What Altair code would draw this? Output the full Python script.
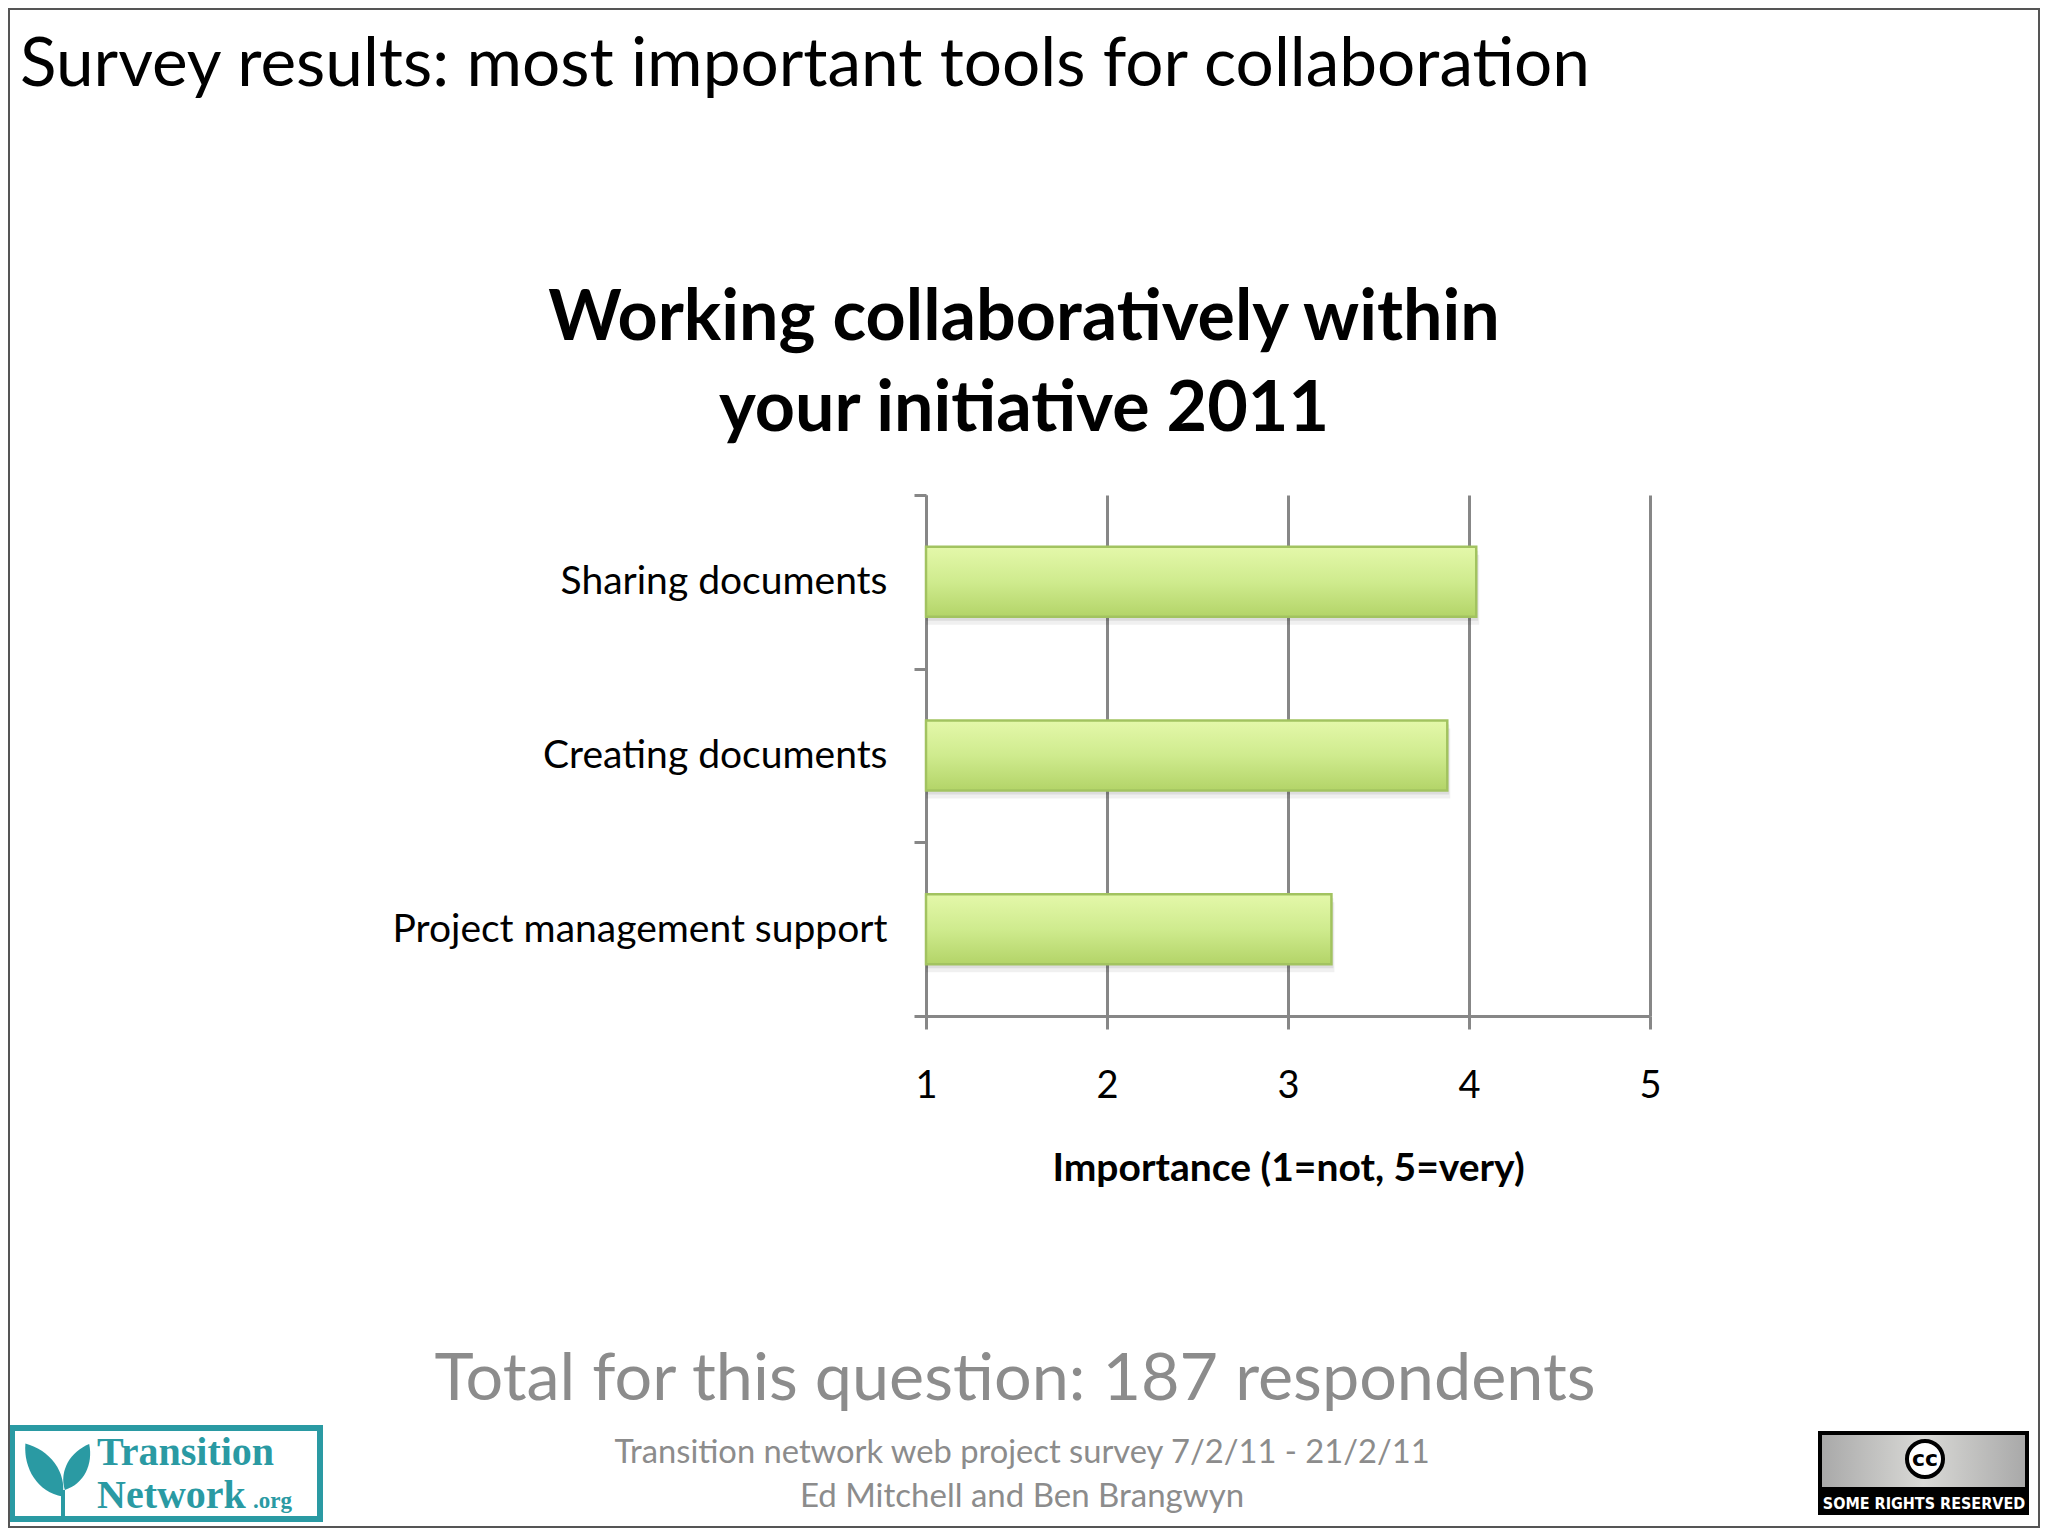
import altair as alt
import pandas as pd

# ---- data ----
categories = ["Sharing documents", "Creating documents", "Project management support"]
importance = [4.04, 3.88, 3.24]
x_ticks = [1, 2, 3, 4, 5]

slide_title = "Survey results: most important tools for collaboration"
chart_title_1 = "Working collaboratively within"
chart_title_2 = "your initiative 2011"
x_title = "Importance (1=not, 5=very)"
total_text = "Total for this question: 187 respondents"
footer_1 = "Transition network web project survey 7/2/11 - 21/2/11"
footer_2 = "Ed Mitchell and Ben Brangwyn"

df = pd.DataFrame({"cat": categories, "val": importance, "base": [1] * len(categories)})

FONT = "Lato"
GRID = "#878787"

# plot-area origin in page pixels
PX0, PY0 = 926, 495
W, H = 724, 521
L, T = PX0 - 8, PY0 - 8
R = 2032 - L - W
B = 1520 - T - H


def X(px):
    return px - PX0


def Y(py):
    return py - PY0


ONE = alt.Data(values=[{"k": 0}])


def txt(text, x, y, size, color="black", weight="normal", align="center",
        font=FONT, baseline="alphabetic"):
    return alt.Chart(alt.Data(values=[{"t": text}])).mark_text(
        align=align, baseline=baseline, fontSize=size, font=font,
        fontWeight=weight, color=color
    ).encode(x=alt.value(X(x)), y=alt.value(Y(y)), text="t:N")


def rect(x1, y1, x2, y2, **kw):
    return alt.Chart(ONE).mark_rect(**kw).encode(
        x=alt.value(X(x1)), x2=alt.value(X(x2)),
        y=alt.value(Y(y1)), y2=alt.value(Y(y2)))


bar_grad = alt.Gradient(
    gradient="linear",
    stops=[alt.GradientStop(color="#e4f8aa", offset=0),
           alt.GradientStop(color="#cfeb8e", offset=0.5),
           alt.GradientStop(color="#b3d468", offset=1)],
    x1=0, x2=0, y1=0, y2=1)

y_enc = alt.Y("cat:N", sort=categories,
              scale=alt.Scale(paddingInner=0, paddingOuter=0),
              axis=alt.Axis(title=None, labelFont=FONT, labelFontSize=39,
                            labelColor="black", labelPadding=27,
                            tickBand="extent", tickSize=12, tickWidth=3,
                            tickColor=GRID, domainColor=GRID, domainWidth=3,
                            grid=False, labelLimit=0))
x_enc = alt.X("val:Q",
              scale=alt.Scale(domain=[1, 5], nice=False, zero=False),
              axis=alt.Axis(values=x_ticks, format="d", grid=True,
                            gridColor=GRID, gridWidth=3, domainColor=GRID,
                            domainWidth=3, tickColor=GRID, tickWidth=3,
                            tickSize=13, labelFont=FONT, labelFontSize=38,
                            labelColor="black", labelPadding=38,
                            labelFlush=False, title=x_title,
                            titleFont=FONT, titleFontSize=39,
                            titleFontWeight="bold", titleColor="black",
                            titlePadding=44))

base = alt.Chart(df)
shadow1 = base.mark_bar(size=70, yOffset=8, xOffset=3, fill="#000000",
                        opacity=0.06).encode(y=y_enc, x=x_enc, x2="base:Q")
shadow2 = base.mark_bar(size=70, yOffset=4, xOffset=2, fill="#000000",
                        opacity=0.08).encode(y=y_enc, x=x_enc, x2="base:Q")
bars = base.mark_bar(size=70, fill=bar_grad, stroke="#a2c360",
                     strokeWidth=2.5).encode(y=y_enc, x=x_enc, x2="base:Q")

layers = [shadow1, shadow2, bars]

# texts
layers.append(txt(slide_title, 20, 86, 67.5, align="left"))
layers.append(txt(chart_title_1, 1024, 340, 70, weight="bold"))
layers.append(txt(chart_title_2, 1024, 431, 70, weight="bold"))
layers.append(txt(total_text, 1015, 1400, 66.5, color="#8c8c8c"))
layers.append(txt(footer_1, 1022, 1463, 32.7, color="#8c8c8c"))
layers.append(txt(footer_2, 1022, 1507, 33, color="#8c8c8c"))

# Transition Network logo
TEAL = "#2a9aa3"
layers.append(rect(12, 1428, 320, 1519, fill="white", stroke=TEAL, strokeWidth=6))
leaf = "M0,1 C-0.55,0.45 -0.5,-0.4 0,-1 C0.5,-0.4 0.55,0.45 0,1 Z"
layers.append(alt.Chart(ONE).mark_point(shape=leaf, filled=True, fill=TEAL,
                                        opacity=1, size=4200, angle=325, strokeWidth=0)
              .encode(x=alt.value(X(44)), y=alt.value(Y(1470))))
layers.append(alt.Chart(ONE).mark_point(shape=leaf, filled=True, fill=TEAL,
                                        opacity=1, size=2700, angle=28, strokeWidth=0)
              .encode(x=alt.value(X(77)), y=alt.value(Y(1467))))
layers.append(alt.Chart(ONE).mark_rule(color=TEAL, strokeWidth=4)
              .encode(x=alt.value(X(63)), y=alt.value(Y(1490)), y2=alt.value(Y(1516))))
layers.append(txt("Transition", 97, 1465, 40, color=TEAL, weight="bold",
                  align="left", font="Liberation Serif"))
layers.append(txt("Network", 97, 1508, 40, color=TEAL, weight="bold",
                  align="left", font="Liberation Serif"))
layers.append(txt(".org", 253, 1508, 23, color=TEAL, weight="bold",
                  align="left", font="Liberation Serif"))

# CC badge
cc_grad = alt.Gradient(
    gradient="linear",
    stops=[alt.GradientStop(color="#a9a9a9", offset=0),
           alt.GradientStop(color="#d9d9d6", offset=0.5),
           alt.GradientStop(color="#a9a9a9", offset=1)],
    x1=0, x2=1, y1=0, y2=0)
layers.append(rect(1818, 1431, 2029, 1515, fill="black"))
layers.append(rect(1822, 1435, 2025, 1487, fill=cc_grad))
layers.append(alt.Chart(ONE).mark_point(shape="circle", filled=True, fill="white",
                                        stroke="black", strokeWidth=4, opacity=1,
                                        size=1300)
              .encode(x=alt.value(X(1925)), y=alt.value(Y(1459))))
layers.append(txt("cc", 1925, 1459, 22, weight="bold", baseline="middle",
                  font="DejaVu Sans"))
layers.append(txt("SOME RIGHTS RESERVED", 1924, 1509, 16, color="white",
                  weight="bold", font="DejaVu Sans Condensed, Roboto, sans-serif"))

# page border
layers.append(rect(9, 9, 2039, 1527, fill="transparent", stroke="#555555",
                   strokeWidth=2))

chart = alt.layer(*layers).properties(
    width=W, height=H,
    padding={"left": L, "top": T, "right": R, "bottom": B},
    autosize=alt.AutoSizeParams(type="none"),
    background="white",
).configure_view(strokeWidth=0)

chart.save("out.html", embed_options={"renderer": "svg", "actions": False})
